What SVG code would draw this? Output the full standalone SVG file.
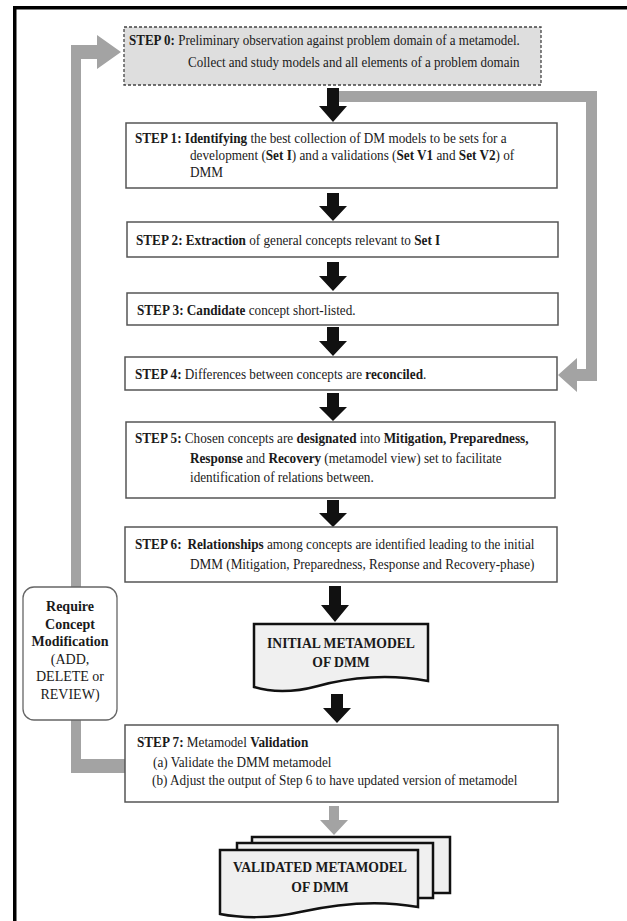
<svg xmlns="http://www.w3.org/2000/svg" width="627" height="921" viewBox="0 0 627 921">
<style>
  .t{font-family:"Liberation Serif","Times New Roman",serif;font-size:15px;fill:#1a1a1a}
  .s{font-size:14px}
  .b{font-weight:bold}
  .box{fill:#fff;stroke:#555;stroke-width:1.5}
  .doc{fill:#f0f0f0;stroke:#111;stroke-width:2.5}
  .blk{fill:#111}
  .gry{fill:#a3a3a3}
  .c{text-anchor:middle}
</style>
<rect x="0" y="0" width="627" height="921" fill="#fff"/>
<!-- frame -->
<rect x="13" y="6" width="614" height="3.5" fill="#000"/>
<rect x="13" y="6" width="3.5" height="915" fill="#000"/>

<g id="connectors">
  <!-- left feedback loop -->
  <path class="gry" d="M71,45 H97 V35 L121,52 L97,69 V59 H81 V759 H125 V773 H71 Z"/>
  <!-- right loop to step 4 -->
  <path class="gry" d="M328,91 H597 V381 H577 V392 L558,375 L577,358 V369 H586 V102 H328 Z"/>
  <!-- black arrows -->
  <path class="blk" d="M327,88 H339 V106 H347 L333,122 L319,106 H327 Z"/>
  <path class="blk" d="M327,193 H339 V206 H347 L333,221 L319,206 H327 Z"/>
  <path class="blk" d="M327,262 H339 V276 H347 L333,291 L319,276 H327 Z"/>
  <path class="blk" d="M327,327 H339 V341 H347 L333,356 L319,341 H327 Z"/>
  <path class="blk" d="M327,393 H339 V407 H347 L333,421 L319,407 H327 Z"/>
  <path class="blk" d="M327,500 H339 V513 H347 L333,527 L319,513 H327 Z"/>
  <path class="blk" d="M329,586 H341 V605 H349 L335,622 L321,605 H329 Z"/>
  <path class="blk" d="M331,694 H343 V708 H351 L337,723 L323,708 H331 Z"/>
  <!-- gray arrow to validated -->
  <path class="gry" d="M329,806 H339 V820 H348 L334,835 L320,820 H329 Z"/>
</g>

<g id="step0">
  <rect x="124" y="27" width="417" height="58" fill="#dedede" stroke="#444" stroke-width="1.3" stroke-dasharray="3,2"/>
  <text class="t" transform="translate(129 45) scale(0.868 1)"><tspan class="b">STEP 0:</tspan> Preliminary observation against problem domain of a metamodel.</text>
  <text class="t" transform="translate(188 67) scale(0.868 1)">Collect and study models and all elements of a problem domain</text>
</g>

<g id="step1">
  <rect class="box" x="126" y="123" width="431" height="65"/>
  <text class="t" transform="translate(135 143) scale(0.88 1)"><tspan class="b">STEP 1: Identifying</tspan> the best collection of DM models to be sets for a</text>
  <text class="t" transform="translate(190 160) scale(0.88 1)">development (<tspan class="b">Set I</tspan>) and a validations (<tspan class="b">Set V1</tspan> and <tspan class="b">Set V2</tspan>) of</text>
  <text class="t" transform="translate(190 177) scale(0.88 1)">DMM</text>
</g>

<g id="step2">
  <rect class="box" x="127" y="222" width="431" height="35"/>
  <text class="t" transform="translate(136 245) scale(0.88 1)"><tspan class="b">STEP 2: Extraction</tspan> of general concepts relevant to <tspan class="b">Set I</tspan></text>
</g>

<g id="step3">
  <rect class="box" x="127" y="293" width="431" height="32"/>
  <text class="t" transform="translate(137 315) scale(0.88 1)"><tspan class="b">STEP 3: Candidate</tspan> concept short-listed.</text>
</g>

<g id="step4">
  <rect class="box" x="125" y="357" width="432" height="33"/>
  <text class="t" transform="translate(135 379) scale(0.88 1)"><tspan class="b">STEP 4:</tspan> Differences between concepts are <tspan class="b">reconciled</tspan>.</text>
</g>

<g id="step5">
  <rect class="box" x="126" y="422" width="429" height="76"/>
  <text class="t" transform="translate(135 443) scale(0.88 1)"><tspan class="b">STEP 5:</tspan> Chosen concepts are <tspan class="b">designated</tspan> into <tspan class="b">Mitigation, Preparedness,</tspan></text>
  <text class="t" transform="translate(190 463) scale(0.88 1)"><tspan class="b">Response</tspan> and <tspan class="b">Recovery</tspan> (metamodel view) set to facilitate</text>
  <text class="t" transform="translate(190 482) scale(0.88 1)">identification of relations between.</text>
</g>

<g id="step6">
  <rect class="box" x="125" y="527" width="432" height="55"/>
  <text class="t" transform="translate(135 549) scale(0.88 1)"><tspan class="b">STEP 6:</tspan> <tspan class="b" dx="3">Relationships</tspan> among concepts are identified leading to the initial</text>
  <text class="t" transform="translate(190 569) scale(0.88 1)">DMM (Mitigation, Preparedness, Response and Recovery-phase)</text>
</g>

<g id="initial-metamodel">
  <path class="doc" d="M254,624 H428 V681 C390,674 350,677 318,686 C292,693 270,692 254,687 Z"/>
  <text class="t b c" transform="translate(341 648) scale(0.91 1)">INITIAL METAMODEL</text>
  <text class="t b c" transform="translate(341 667) scale(0.91 1)">OF DMM</text>
</g>

<g id="step7">
  <rect class="box" x="125" y="725" width="433" height="77"/>
  <text class="t" transform="translate(137 747) scale(0.88 1)"><tspan class="b">STEP 7:</tspan> Metamodel <tspan class="b">Validation</tspan></text>
  <text class="t" transform="translate(153 767) scale(0.88 1)">(a) Validate the DMM metamodel</text>
  <text class="t" transform="translate(152 785) scale(0.88 1)">(b) Adjust the output of Step 6 to have updated version of metamodel</text>
</g>

<g id="require-modification">
  <rect x="23" y="587" width="94" height="133" rx="11" ry="11" fill="#fff" stroke="#666" stroke-width="1.3"/>
  <text class="t s b c" x="70" y="611">Require</text>
  <text class="t s b c" x="70" y="629">Concept</text>
  <text class="t s b c" x="70" y="646">Modification</text>
  <text class="t s c" x="70" y="664">(ADD,</text>
  <text class="t s c" x="70" y="681">DELETE or</text>
  <text class="t s c" x="70" y="699">REVIEW)</text>
</g>

<g id="validated-metamodel">
  <rect class="doc" x="252" y="837" width="198" height="56"/>
  <rect class="doc" x="237" y="843" width="196" height="55"/>
  <path class="doc" d="M220,850 H418 V907 C380,900 340,903 300,912 C270,919 240,918 220,914 Z"/>
  <text class="t b c" transform="translate(320 872) scale(0.91 1)">VALIDATED METAMODEL</text>
  <text class="t b c" transform="translate(320 892) scale(0.91 1)">OF DMM</text>
</g>
</svg>
